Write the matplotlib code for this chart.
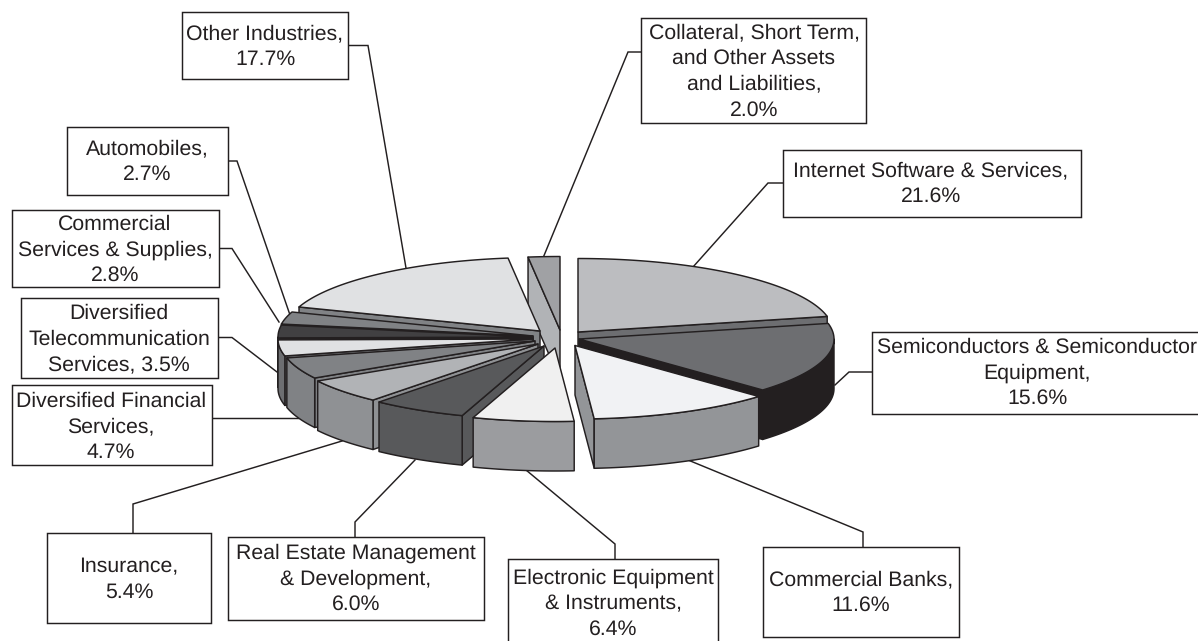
import numpy as np
import matplotlib
matplotlib.use("Agg")
import matplotlib.pyplot as plt
from matplotlib.patches import Polygon, Rectangle

# ---- data (clockwise from 12 o'clock) ----
labels = ["Internet Software & Services,\n21.6%",
          "Semiconductors & Semiconductor\nEquipment,\n15.6%",
          "Commercial Banks,\n11.6%",
          "Electronic Equipment\n& Instruments,\n6.4%",
          "Real Estate Management\n& Development,\n6.0%",
          "Insurance,\n5.4%",
          "Diversified Financial\nServices,\n4.7%",
          "Diversified\nTelecommunication\nServices, 3.5%",
          "Commercial\nServices & Supplies,\n2.8%",
          "Automobiles,\n2.7%",
          "Other Industries,\n17.7%",
          "Collateral, Short Term,\nand Other Assets\nand Liabilities,\n2.0%"]
shares = [21.6, 15.6, 11.6, 6.4, 6.0, 5.4, 4.7, 3.5, 2.8, 2.7, 17.7, 2.0]

# ---- styles / layout ----
top_colors = ["#bcbdc0", "#6d6e71", "#f1f2f4", "#f0f0f0", "#58595b", "#b1b3b6",
              "#808285", "#e0e1e3", "#414042", "#808285", "#e0e1e3", "#a0a1a4"]
side_colors = ["#6d6e71", "#231f20", "#939598", "#9b9c9f", "#58595b", "#8f9194",
               "#808285", "#6d6e71", "#231f20", "#231f20", "#808285", "#b1b3b6"]
apex_x = [578, 579, 575, 555, 544, 538, 535, 533, 533, 533, 540, 560]
apex_y = [332, 339, 345.5, 348, 346, 344, 341, 339, 337, 336, 331, 330]
draw_order = [11, 0, 10, 9, 8, 7, 6, 5, 4, 1, 3, 2]
RX, RY, DEPTH = 255, 73.5, 49.5
INK = "#231f20"
LW = 1.05

boxes = [(783, 150, 1081, 217), (872, 332, 1204, 414), (763, 547, 959, 637),
         (508, 559, 718, 650), (228, 537, 484, 620), (47, 533, 211, 623),
         (12, 385, 212, 465), (21, 298, 218, 378), (12, 210, 219, 287),
         (67, 127, 228, 195), (182, 12, 348, 79), (641, 18, 866, 123)]
text_xy = [(931, 184), (1037, 373), (861, 593), (613, 603.5), (356, 579), (129, 580),
           (111, 427), (119, 339), (115, 250), (147, 162), (265, 47), (754, 71.5)]
leaders = [[(783, 183), (768, 183), (693, 267)],
           [(872, 372), (849, 372), (835, 385)],
           [(863, 547), (863, 532), (688, 460)],
           [(615, 559), (615, 544), (526, 470)],
           [(355, 537), (355, 522), (415, 460)],
           [(133, 533), (133, 504), (342, 441)],
           [(212, 418), (298, 418)],
           [(218, 337.5), (232, 337.5), (277, 372)],
           [(219, 248.5), (232, 248.5), (279, 322)],
           [(228, 161), (237, 161), (290, 315)],
           [(348, 45.5), (368, 45.5), (406, 268)],
           [(641, 52), (628, 52), (543, 258)]]

plt.rcParams["font.family"] = ["Liberation Sans", "DejaVu Sans"]
plt.rcParams["text.hinting"] = "none"
fig = plt.figure(figsize=(11.98, 6.41), dpi=100, facecolor="white")
ax = fig.add_axes([0, 0, 1, 1])
ax.set_xlim(0, 1198)
ax.set_ylim(641, 0)
ax.axis("off")

# leaders below the pie
for pts in leaders:
    xs, ys = zip(*pts)
    ax.plot(xs, ys, color=INK, lw=LW, zorder=1, solid_joinstyle="miter")

# pie angles from the shares
ends = np.cumsum(shares) / np.sum(shares) * 2 * np.pi
starts = np.concatenate([[0], ends[:-1]])


def rim(cx, cy, a0, a1, dy=0.0):
    t = np.linspace(a0, a1, max(2, int(np.degrees(a1 - a0)) * 2 + 2))
    return np.column_stack([cx + RX * np.sin(t), cy - RY * np.cos(t) + dy])


def add_poly(pts, color, z):
    ax.add_patch(Polygon(pts, closed=True, facecolor=color, edgecolor=INK, lw=LW,
                         joinstyle="round", zorder=z))


z = 2
for i in draw_order:
    cx, cy, a0, a1 = apex_x[i], apex_y[i], starts[i], ends[i]
    side = side_colors[i]
    # cut faces that turn toward the viewer
    if np.sin(a0) < -1e-6:
        o = rim(cx, cy, a0, a0)[0]
        add_poly([(cx, cy), o, (o[0], o[1] + DEPTH), (cx, cy + DEPTH)], side, z)
        z += 1
    if np.sin(a1) > 1e-6:
        o = rim(cx, cy, a1, a1)[0]
        add_poly([(cx, cy), o, (o[0], o[1] + DEPTH), (cx, cy + DEPTH)], side, z)
        z += 1
    # front part of the outer wall
    w0, w1 = max(a0, np.pi / 2), min(a1, 3 * np.pi / 2)
    if w1 > w0:
        upper = rim(cx, cy, w0, w1)
        lower = rim(cx, cy, w0, w1, DEPTH)[::-1]
        add_poly(np.vstack([upper, lower]), side, z)
        z += 1
    # top face
    add_poly(np.vstack([[(cx, cy)], rim(cx, cy, a0, a1)]), top_colors[i], z)
    z += 1

# label boxes and texts
for lab, (x0, y0, x1, y1), (tx, ty) in zip(labels, boxes, text_xy):
    ax.add_patch(Rectangle((x0, y0), x1 - x0, y1 - y0, facecolor="white",
                           edgecolor=INK, lw=LW, zorder=100))
    ax.text(tx, ty, lab, ha="center", va="center", ma="center", fontsize=15.3,
            color=INK, linespacing=1.4, zorder=101)

fig.savefig("out.png", dpi=100)
